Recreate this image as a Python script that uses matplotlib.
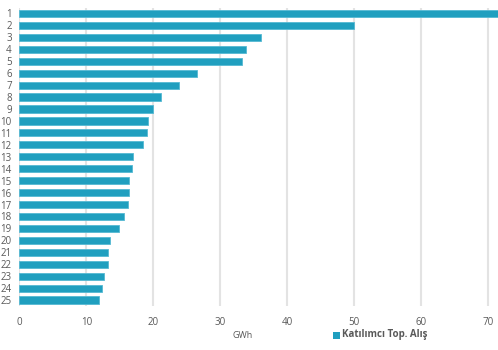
import matplotlib
matplotlib.use("Agg")
import matplotlib.pyplot as plt
from matplotlib.patches import Rectangle

categories = [str(i) for i in range(1, 26)]
values = [71.6, 50.0, 36.0, 33.9, 33.2, 26.5, 23.9, 21.2, 19.9, 19.2, 19.0, 18.4,
          17.0, 16.8, 16.4, 16.3, 16.2, 15.7, 14.9, 13.6, 13.3, 13.3, 12.7, 12.4, 11.9]
xticks = [0, 10, 20, 30, 40, 50, 60, 70]
xlabel = "GWh"
legend_label = "Katılımcı Top. Alış"

plt.rcParams['font.family'] = ['Open Sans', 'DejaVu Sans']

fig = plt.figure(figsize=(4.98, 3.5), dpi=100)
ax = fig.add_axes([19.3 / 498, 1 - 306 / 350, (498 - 19.3) / 498, 298.5 / 350])

bar_color = "#209fbf"
y = list(range(len(categories)))
ax.barh(y, values, height=0.6, color=bar_color, edgecolor="#55b9d3", linewidth=0.6, zorder=3)
ax.set_ylim(len(categories) - 0.5, -0.5)
ax.set_xlim(0, (498 - 19.3) / 6.7)
ax.set_yticks(y)
ax.set_yticklabels(categories)
ax.set_xticks(xticks)
ax.set_xticklabels([str(t) for t in xticks])
ax.grid(axis="x", color="#e3e3e3", linewidth=1.5, zorder=0)
for s in ax.spines.values():
    s.set_visible(False)
ax.tick_params(axis="both", length=0, labelsize=7, labelcolor="#595959")
ax.tick_params(axis="y", pad=5.5)
ax.tick_params(axis="x", pad=8)

fig.text(243 / 498, 1 - 335 / 350, xlabel, ha="center", va="center", fontsize=6.5, color="#595959")
fig.patches.append(Rectangle((333 / 498, 1 - 338.5 / 350), 7 / 498, 7 / 350,
                             transform=fig.transFigure, facecolor=bar_color, edgecolor="none"))
fig.text(342 / 498, 1 - 335 / 350, legend_label, ha="left", va="center", fontsize=7,
         fontweight="bold", color="#595959")

fig.savefig("out.png", dpi=100)
